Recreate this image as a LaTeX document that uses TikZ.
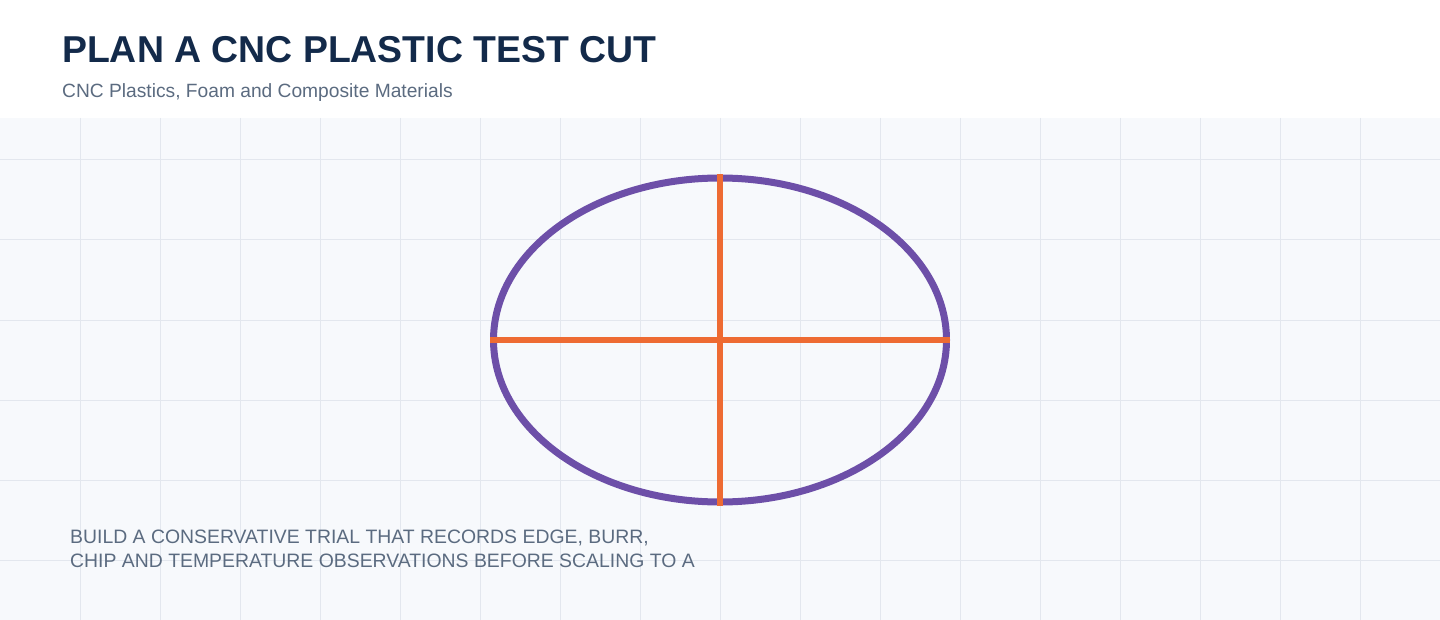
\documentclass[tikz,border=0pt]{standalone}
\usepackage{fontspec}
\setmainfont{Liberation Sans}
\usetikzlibrary{shapes.geometric}
\definecolor{titleblue}{HTML}{132A4A}
\definecolor{subgrey}{HTML}{5B6B80}
\definecolor{gridline}{HTML}{E3E7EE}
\definecolor{paper}{HTML}{F7F9FC}
\definecolor{stockpurple}{HTML}{6D4FA8}
\definecolor{cutorange}{HTML}{EE6B33}
\tikzstyle{every picture}=[x=1pt,y=-1pt]
\tikzstyle{label text}=[inner sep=0pt, anchor=base west]
\tikzstyle{grid line}=[draw=gridline, line width=1pt]
\tikzstyle{cut line}=[draw=cutorange, line width=6pt]

\begin{document}
\begin{tikzpicture}
  \useasboundingbox (0,0) rectangle (1440,620);
  \fill[white] (0,0) rectangle (1440,118);
  \fill[paper] (0,118) rectangle (1440,620);
  \foreach \x in {80,160,...,1360}
    \draw[grid line] (\x,118) -- (\x,620);
  \foreach \y in {160,240,...,560}
    \draw[grid line] (0,\y) -- (1440,\y);

  \node[label text, text=titleblue, font=\bfseries\fontsize{37.4}{44}\selectfont]
    (title) at (62,63) {PLAN A CNC PLASTIC TEST CUT};
  \node[label text, text=subgrey, font=\fontsize{19.2}{22}\selectfont]
    (subtitle) at (62,98) {CNC Plastics, Foam and Composite Materials};

  \node[ellipse, draw=stockpurple, line width=7pt, inner sep=0pt,
        minimum width=453pt, minimum height=324pt] (stock) at (720,340) {};
	\draw[cut line] (stock.west)--(stock.east);
	\draw[cut line] (stock.north)--(stock.south);

  \node[label text, text=subgrey, align=left, font=\fontsize{19.4}{24}\selectfont]
    (note) at (70,567) {BUILD A CONSERVATIVE TRIAL THAT RECORDS EDGE, BURR,\\
      CHIP AND TEMPERATURE OBSERVATIONS BEFORE SCALING TO A};
\end{tikzpicture}
\end{document}
